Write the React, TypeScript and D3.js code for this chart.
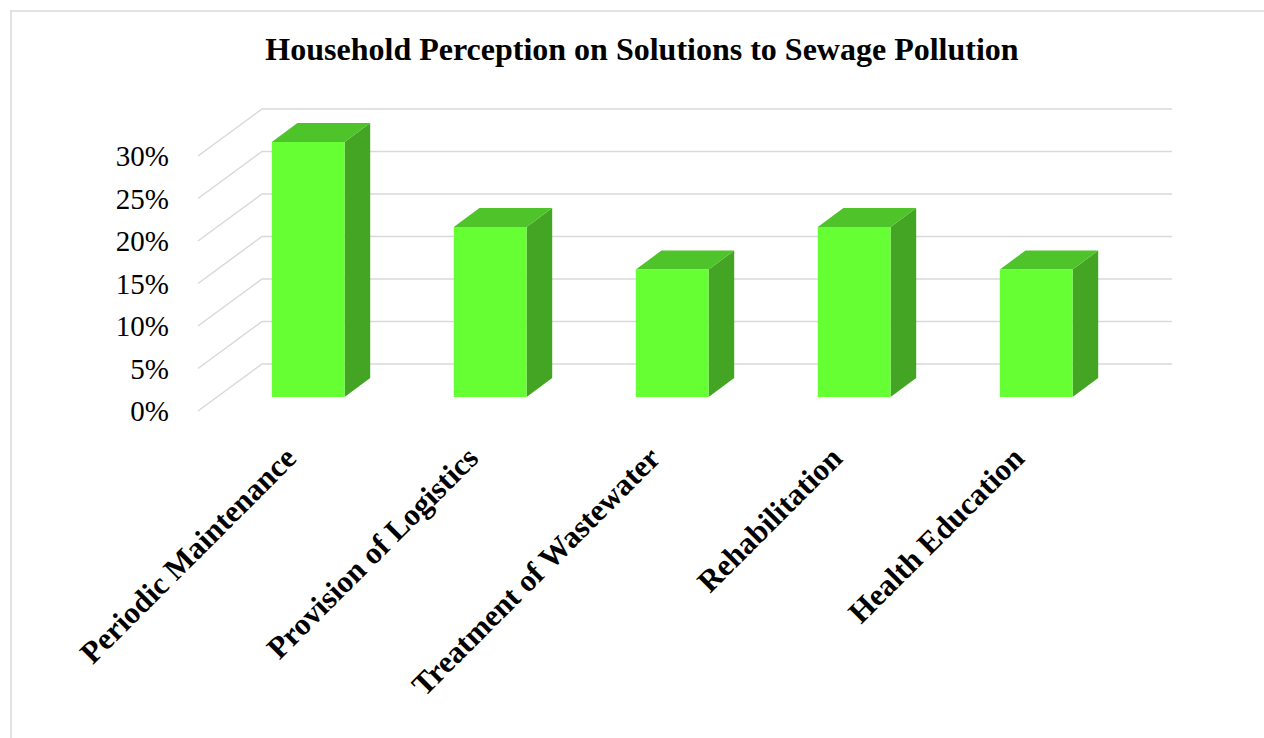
import React from "react";
import * as d3 from "d3";

const categories = [
  "Periodic Maintenance",
  "Provision of Logistics",
  "Treatment of Wastewater",
  "Rehabilitation",
  "Health Education",
];
const values = [30, 20, 15, 20, 15];
const ticks = [0, 5, 10, 15, 20, 25, 30];

const W = 1264;
const H = 738;
// front plane of the plot
const left = 198;
const right = 1108;
const bottom = 411;
const top = 156;
// depth vector of the floor / side wall
const DX = 64;
const DY = -47;
// bar sits between these depth fractions
const F0 = 0.3;
const F1 = 0.7;

const font = "'Liberation Serif', 'Times New Roman', serif";

export default function App() {
  const x = d3.scaleBand<string>().domain(categories).range([left, right]).paddingInner(0.6).paddingOuter(0.3);
  const y = d3.scaleLinear().domain([0, 30]).range([bottom, top]);
  const cat = d3.scaleBand<string>().domain(categories).range([left, right]);

  const pt = (px: number, py: number, f: number) => [px + f * DX, py + f * DY];
  const poly = (pts: number[][]) => pts.map((p) => p.join(",")).join(" ");

  return (
    <svg width={W} height={H} style={{ position: "absolute", left: 0, top: 0, background: "#fff" }}>
      <rect x={11} y={11} width={W} height={H} fill="#fff" stroke="#d9d9d9" strokeWidth={1.5} />
      <text x={642} y={60} textAnchor="middle" fontFamily={font} fontWeight="bold" fontSize={32}>
        Household Perception on Solutions to Sewage Pollution
      </text>

      {/* gridlines: side wall diagonal + back wall horizontal */}
      <g stroke="#d9d9d9" strokeWidth={1.5} fill="none">
        {ticks.map((t) => (
          <polyline
            key={t}
            points={poly([pt(left, y(t), 0), pt(left, y(t), 1), pt(right, y(t), 1)])}
          />
        ))}
      </g>

      <g fontFamily={font} fontSize={29} textAnchor="end">
        {ticks.map((t) => (
          <text key={t} x={169} y={y(t) + 10}>
            {t}%
          </text>
        ))}
      </g>

      {categories.map((c, i) => {
        const x0 = x(c)!;
        const x1 = x0 + x.bandwidth();
        const yt = y(values[i]);
        const yb = y(0);
        return (
          <g key={c}>
            <polygon
              points={poly([pt(x1, yt, F0), pt(x1, yt, F1), pt(x1, yb, F1), pt(x1, yb, F0)])}
              fill="#43a523"
            />
            <polygon
              points={poly([pt(x0, yt, F0), pt(x1, yt, F0), pt(x1, yt, F1), pt(x0, yt, F1)])}
              fill="#4fc42a"
            />
            <polygon
              points={poly([pt(x0, yt, F0), pt(x1, yt, F0), pt(x1, yb, F0), pt(x0, yb, F0)])}
              fill="#66ff33"
            />
          </g>
        );
      })}

      <g fontFamily={font} fontSize={31} fontWeight="bold" textAnchor="end">
        {categories.map((c) => {
          const cx = cat(c)! + cat.bandwidth() / 2;
          return (
            <text key={c} transform={`translate(${cx + 9},${460}) rotate(-45)`}>
              {c}
            </text>
          );
        })}
      </g>
    </svg>
  );
}
